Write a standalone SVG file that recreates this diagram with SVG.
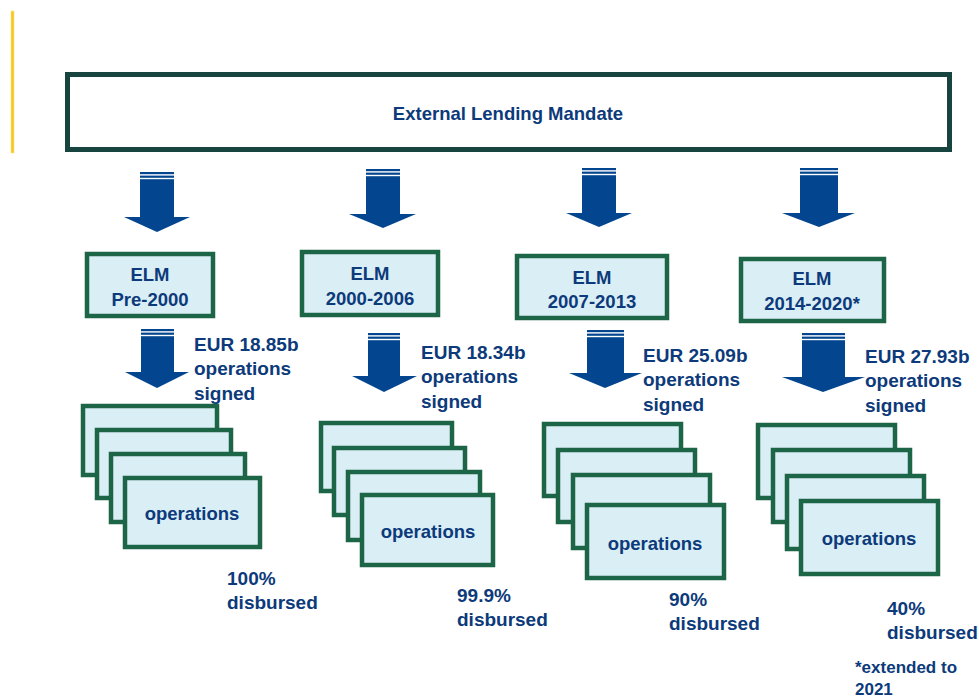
<svg xmlns="http://www.w3.org/2000/svg" width="979" height="700" viewBox="0 0 979 700">
<style>
text{font-family:"Liberation Sans",Arial,sans-serif;font-weight:bold;fill:#0C3A7A}
.c{text-anchor:middle}
.main{fill:#fff;stroke:#18443F;stroke-width:5}
.elm{fill:#DAEEF6;stroke:#1C6547;stroke-width:4.5}
.op{fill:#DAEEF6;stroke:#1C6547;stroke-width:4.5}
.arr{fill:#03468F}
.gap{fill:#fff}
.t19{font-size:19px}
.t18{font-size:18.5px}
.t17{font-size:17px}
</style>
<rect x="0" y="0" width="979" height="700" fill="#fff"/>
<rect x="11" y="11" width="3" height="142" fill="#F7C71E" stroke="#FCE48A" stroke-width="0.6"/>

<g id="elm-main">
<rect class="main" x="67.5" y="74.5" width="882" height="75"/>
<text class="c t18" x="508" y="120">External Lending Mandate</text>
</g>

<g id="connectors">
<path class="arr" d="M140,172 H174 V217 H190 L157,232 L124,217 H140 Z"/>
<rect class="gap" x="139" y="174.2" width="36" height="1.4"/><rect class="gap" x="139" y="177.8" width="36" height="1.4"/>
<path class="arr" d="M366,169 H400 V214 H416 L383,228 L349,214 H366 Z"/>
<rect class="gap" x="365" y="171.2" width="36" height="1.4"/><rect class="gap" x="365" y="174.8" width="36" height="1.4"/>
<path class="arr" d="M582,168 H616 V213 H632 L599,227 L566,213 H582 Z"/>
<rect class="gap" x="581" y="170.2" width="36" height="1.4"/><rect class="gap" x="581" y="173.8" width="36" height="1.4"/>
<path class="arr" d="M800,168 H838 V213 H855 L819,227 L782,213 H800 Z"/>
<rect class="gap" x="799" y="170.2" width="40" height="1.4"/><rect class="gap" x="799" y="173.8" width="40" height="1.4"/>
<path class="arr" d="M141,329 H174 V372 H189 L157,388 L125,372 H141 Z"/>
<rect class="gap" x="140" y="331.2" width="35" height="1.4"/><rect class="gap" x="140" y="334.8" width="35" height="1.4"/>
<path class="arr" d="M368,333 H400 V376 H417 L384,392 L352,376 H368 Z"/>
<rect class="gap" x="367" y="335.2" width="34" height="1.4"/><rect class="gap" x="367" y="338.8" width="34" height="1.4"/>
<path class="arr" d="M587,330 H624 V373 H642 L605,388 L569,373 H587 Z"/>
<rect class="gap" x="586" y="332.2" width="39" height="1.4"/><rect class="gap" x="586" y="335.8" width="39" height="1.4"/>
<path class="arr" d="M802,333 H845 V377 H865 L823,392 L782,377 H802 Z"/>
<rect class="gap" x="801" y="335.2" width="45" height="1.4"/><rect class="gap" x="801" y="338.8" width="45" height="1.4"/>
</g>

<g id="elm-pre2000">
<rect class="elm" x="87" y="254" width="126" height="62"/>
<text class="c t18" x="150" y="281">ELM</text>
<text class="c t18" x="150" y="306">Pre-2000</text>
</g>
<g id="elm-2000-2006">
<rect class="elm" x="302" y="252" width="136" height="63"/>
<text class="c t18" x="370" y="280">ELM</text>
<text class="c t18" x="370" y="305">2000-2006</text>
</g>
<g id="elm-2007-2013">
<rect class="elm" x="517" y="256" width="150" height="62"/>
<text class="c t18" x="592" y="284">ELM</text>
<text class="c t18" x="592" y="308">2007-2013</text>
</g>
<g id="elm-2014-2020">
<rect class="elm" x="741" y="259" width="143" height="62"/>
<text class="c t18" x="812" y="285">ELM</text>
<text class="c t18" x="812" y="310">2014-2020*</text>
</g>

<g id="signed-1">
<text class="t19" x="194" y="351">EUR 18.85b</text>
<text class="t19" x="194" y="375">operations</text>
<text class="t19" x="194" y="400">signed</text>
</g>
<g id="signed-2">
<text class="t19" x="421" y="359">EUR 18.34b</text>
<text class="t19" x="421" y="383">operations</text>
<text class="t19" x="421" y="408">signed</text>
</g>
<g id="signed-3">
<text class="t19" x="643" y="362">EUR 25.09b</text>
<text class="t19" x="643" y="386">operations</text>
<text class="t19" x="643" y="411">signed</text>
</g>
<g id="signed-4">
<text class="t19" x="865" y="363">EUR 27.93b</text>
<text class="t19" x="865" y="387">operations</text>
<text class="t19" x="865" y="412">signed</text>
</g>

<g id="operations-1">
<rect class="op" x="83" y="406" width="134" height="69"/>
<rect class="op" x="97" y="430" width="134" height="68"/>
<rect class="op" x="111" y="454" width="134" height="68"/>
<rect class="op" x="125" y="478" width="135" height="69"/>
<text class="c t18" x="192" y="520">operations</text>
</g>
<g id="operations-2">
<rect class="op" x="321" y="423" width="131" height="68"/>
<rect class="op" x="334" y="448" width="131" height="67"/>
<rect class="op" x="348" y="472" width="132" height="68"/>
<rect class="op" x="362" y="495" width="131" height="70"/>
<text class="c t18" x="428" y="538">operations</text>
</g>
<g id="operations-3">
<rect class="op" x="544" y="424" width="137" height="72"/>
<rect class="op" x="558" y="450" width="137" height="72"/>
<rect class="op" x="573" y="475" width="137" height="73"/>
<rect class="op" x="587" y="505" width="137" height="73"/>
<text class="c t18" x="655" y="550">operations</text>
</g>
<g id="operations-4">
<rect class="op" x="758" y="425" width="137" height="73"/>
<rect class="op" x="773" y="450" width="137" height="72"/>
<rect class="op" x="787" y="476" width="137" height="73"/>
<rect class="op" x="801" y="501" width="137" height="73"/>
<text class="c t18" x="869" y="545">operations</text>
</g>

<g id="disbursed-1">
<text class="t19" x="227" y="585">100%</text>
<text class="t19" x="227" y="609">disbursed</text>
</g>
<g id="disbursed-2">
<text class="t19" x="457" y="602">99.9%</text>
<text class="t19" x="457" y="626">disbursed</text>
</g>
<g id="disbursed-3">
<text class="t19" x="669" y="606">90%</text>
<text class="t19" x="669" y="630">disbursed</text>
</g>
<g id="disbursed-4">
<text class="t19" x="887" y="615">40%</text>
<text class="t19" x="887" y="639">disbursed</text>
</g>
<g id="footnote">
<text class="t17" x="855" y="673">*extended to</text>
<text class="t17" x="855" y="695">2021</text>
</g>
</svg>
